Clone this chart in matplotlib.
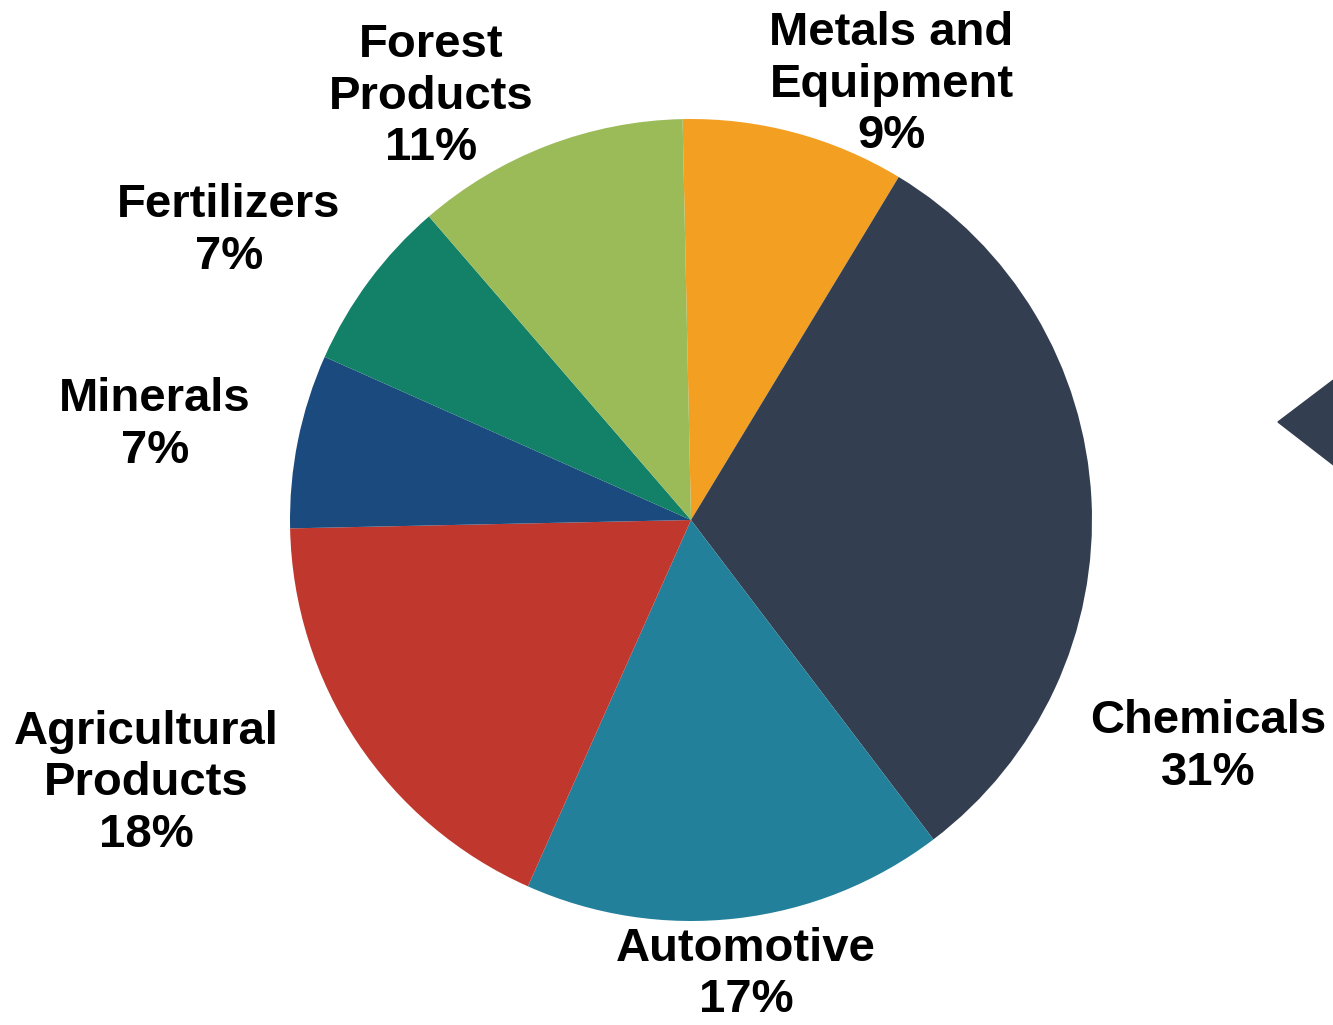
import matplotlib.pyplot as plt
from matplotlib.patches import Polygon

plt.rcParams['font.family'] = ['Liberation Sans', 'DejaVu Sans']

# freight share by commodity group, clockwise from the top
categories = ["Metals and\nEquipment", "Chemicals", "Automotive", "Agricultural\nProducts",
              "Minerals", "Fertilizers", "Forest\nProducts"]
shares = [9, 31, 17, 18, 7, 7, 11]
colors = ["#F39F21", "#333F50", "#23809B", "#C0372D", "#1A4A7E", "#138068", "#9BBB59"]

# label centres in units of the pie radius
label_pos = [(0.50, 1.085), (1.29, -0.566), (0.137, -1.133), (-1.359, -0.656),
             (-1.337, 0.237), (-1.152, 0.721), (-0.648, 1.055)]

W, H = 1333, 1025
cx, cy, r = 691, 520, 401

fig = plt.figure(figsize=(W / 100, H / 100), dpi=100)
ax = fig.add_axes([0, 0, 1, 1])

ax.pie(shares, colors=colors, startangle=91.2, counterclock=False, radius=1,
       wedgeprops=dict(linewidth=0))

for name, val, (x, y) in zip(categories, shares, label_pos):
    ax.text(x, y, f"{name}\n{val}%", ha="center", va="center", fontsize=34,
            fontweight="bold", linespacing=1.22, color="black")

ax.set_xlim(-cx / r, (W - cx) / r)
ax.set_ylim(-(H - cy) / r, cy / r)
ax.set_aspect("equal")
ax.axis("off")

# navigation arrow cut off at the right edge
arrow = Polygon([(1278 / W, 1 - 422 / H), (1340 / W, 1 - 375 / H), (1340 / W, 1 - 470 / H)],
                closed=True, transform=fig.transFigure, color="#333F50", clip_on=False)
fig.patches.append(arrow)

fig.savefig("out.png", dpi=100)
